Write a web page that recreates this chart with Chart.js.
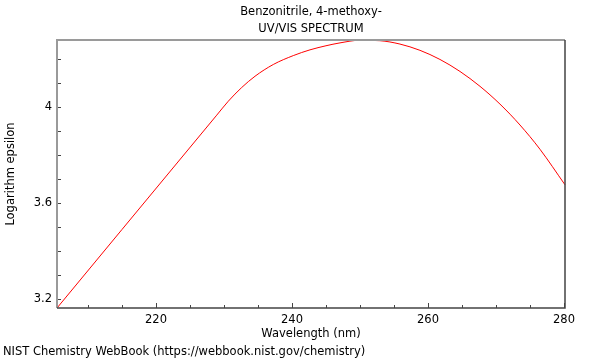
<!DOCTYPE html>
<html>
<head>
<meta charset="utf-8">
<script src="https://cdn.jsdelivr.net/npm/chart.js@4/dist/chart.umd.min.js"></script>
<style>
  body { margin: 0; background: #fff; }
  #wrap { width: 600px; height: 360px; }
</style>
</head>
<body>
<div id="wrap"><canvas id="spec" width="600" height="360"></canvas></div>
<script>
// values
const wavelengths = [205.44, 215, 228.93, 230.63, 232.6, 234.56, 237.25, 240.19, 242.65, 245.0, 247.06, 250.0, 252.94, 255.88, 258.82, 261.76, 264.71, 267.65, 270.59, 273.53, 276.47, 280.15];
const logEpsilon  = [3.164, 3.491, 3.967, 4.025, 4.082, 4.129, 4.178, 4.215, 4.239, 4.256, 4.268, 4.279, 4.277, 4.263, 4.237, 4.199, 4.149, 4.087, 4.013, 3.926, 3.825, 3.677];
const xTicks = [220, 240, 260, 280];
const yTicks = [3.2, 3.6, 4.0];
const xMinor = [210, 215, 220, 225, 230, 235, 240, 245, 250, 255, 260, 265, 270, 275, 280];
const yMinor = [3.2, 3.3, 3.4, 3.5, 3.6, 3.7, 3.8, 3.9, 4.0, 4.1, 4.2];

const fontFam = "'DejaVu Sans', sans-serif";
const fs = 11.5;

// frame + inward tick marks
const framePlugin = {
    id: 'frame',
    afterDraw(chart) {
        const ctx = chart.ctx;
        const a = chart.chartArea;
        const xs = chart.scales.x, ys = chart.scales.y;
        ctx.save();
        ctx.lineWidth = 1;
        ctx.strokeStyle = '#444';
        ctx.beginPath();
        xMinor.forEach(v => {
            const px = Math.round(xs.getPixelForValue(v)) + 0.5;
            const len = xTicks.includes(v) ? 5 : 3;
            ctx.moveTo(px, a.bottom);
            ctx.lineTo(px, a.bottom - len);
        });
        yMinor.forEach(v => {
            const py = Math.round(ys.getPixelForValue(v)) + 0.5;
            ctx.moveTo(a.left, py);
            ctx.lineTo(a.left + 4, py);
        });
        ctx.stroke();

        ctx.lineWidth = 2;
        ctx.strokeStyle = '#9a9a9a';
        ctx.beginPath();
        ctx.moveTo(a.left, a.bottom);
        ctx.lineTo(a.left, a.top);
        ctx.lineTo(a.right, a.top);
        ctx.stroke();
        ctx.lineWidth = 1.5;
        ctx.strokeStyle = '#444';
        ctx.beginPath();
        ctx.moveTo(a.right, a.top);
        ctx.lineTo(a.right, a.bottom);
        ctx.lineTo(a.left, a.bottom);
        ctx.stroke();
        ctx.restore();
    }
};

const ctx = document.getElementById('spec');
const myChart = new Chart(ctx, {
    type: 'line',
    data: {
        datasets: [{
            data: wavelengths.map((w, i) => ({ x: w, y: logEpsilon[i] })),
            borderColor: 'rgb(255, 0, 0)',
            borderWidth: 1,
            pointRadius: 0,
            cubicInterpolationMode: 'monotone',
            fill: false
        }]
    },
    options: {
        responsive: false,
        animation: false,
        clip: false,
        layout: { padding: { left: 3, right: 35, top: 0, bottom: 0 } },
        plugins: {
            legend: { display: false },
            tooltip: { enabled: false },
            title: {
                display: true,
                fullSize: false,
                text: ['Benzonitrile, 4-methoxy-', 'UV/VIS SPECTRUM'],
                color: '#000',
                font: { family: fontFam, size: fs, weight: 'normal', lineHeight: 1.478 },
                padding: { top: 4, bottom: 2 }
            },
            subtitle: {
                display: true,
                position: 'bottom',
                align: 'start',
                text: 'NIST Chemistry WebBook (https://webbook.nist.gov/chemistry)',
                color: '#000',
                font: { family: fontFam, size: fs, weight: 'normal', lineHeight: 1.2 },
                padding: { top: 0, bottom: 1 }
            }
        },
        scales: {
            x: {
                type: 'linear',
                min: 205.44,
                max: 280.15,
                grid: { display: false, drawTicks: false },
                border: { display: false },
                afterBuildTicks: s => { s.ticks = xTicks.map(v => ({ value: v })); },
                afterFit: s => { s.height = 37.2; },
                ticks: {
                    color: '#000',
                    padding: 5,
                    maxRotation: 0,
                    font: { family: fontFam, size: fs },
                    callback: v => String(v)
                },
                title: {
                    display: true,
                    text: 'Wavelength (nm)',
                    color: '#000',
                    font: { family: fontFam, size: fs },
                    padding: { top: 0, bottom: 4 }
                }
            },
            y: {
                type: 'linear',
                min: 3.164,
                max: 4.28,
                grid: { display: false, drawTicks: false },
                border: { display: false },
                afterBuildTicks: s => { s.ticks = yTicks.map(v => ({ value: v })); },
                afterFit: s => { s.width = 54; },
                ticks: {
                    color: '#000',
                    padding: 5,
                    font: { family: fontFam, size: fs },
                    callback: v => String(Math.round(v * 10) / 10)
                },
                title: {
                    display: true,
                    text: 'Logarithm epsilon',
                    color: '#000',
                    font: { family: fontFam, size: fs },
                    padding: { top: 1, bottom: 0 }
                }
            }
        }
    },
    plugins: [framePlugin]
});
</script>
</body>
</html>
